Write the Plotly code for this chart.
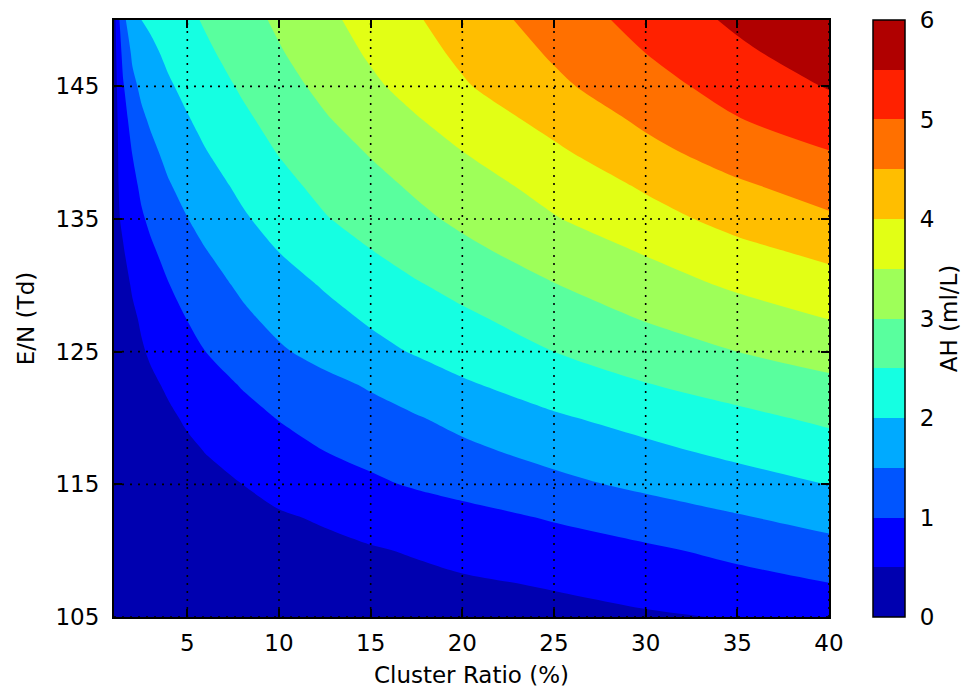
import plotly.graph_objects as go

# ---- data ----
cluster_ratio = [1, 1.25, 1.5, 2, 2.5, 3, 4, 5, 6, 8, 10, 12.5, 15, 17.5, 20, 25, 30, 35, 40]
en_td = [105, 107.5, 110, 112.5, 115, 117.5, 120, 122.5, 125, 127.5, 130,
         132.5, 135, 137.5, 140, 142.5, 145, 147.5, 150]

ah_105 = [0.03, 0.035, 0.04, 0.05, 0.06, 0.07, 0.09, 0.11, 0.13, 0.16, 0.19, 0.23, 0.27, 0.30, 0.33, 0.39, 0.44, 0.53, 0.68]
ah_107 = [0.04, 0.045, 0.055, 0.07, 0.085, 0.10, 0.13, 0.16, 0.18, 0.23, 0.27, 0.32, 0.37, 0.41, 0.45, 0.53, 0.69, 0.84, 0.99]
ah_110 = [0.05, 0.06, 0.07, 0.09, 0.11, 0.13, 0.17, 0.21, 0.24, 0.30, 0.35, 0.41, 0.47, 0.53, 0.61, 0.77, 0.92, 1.11, 1.33]
ah_112 = [0.06, 0.07, 0.085, 0.11, 0.14, 0.165, 0.22, 0.27, 0.31, 0.39, 0.46, 0.54, 0.64, 0.74, 0.84, 1.04, 1.25, 1.46, 1.66]
ah_115 = [0.07, 0.085, 0.10, 0.13, 0.165, 0.20, 0.27, 0.33, 0.39, 0.50, 0.62, 0.77, 0.92, 1.05, 1.16, 1.38, 1.60, 1.80, 2.01]
ah_117 = [0.08, 0.10, 0.12, 0.17, 0.21, 0.26, 0.34, 0.43, 0.51, 0.66, 0.81, 1.00, 1.13, 1.27, 1.40, 1.65, 1.89, 2.11, 2.30]
ah_120 = [0.10, 0.13, 0.16, 0.22, 0.27, 0.33, 0.44, 0.55, 0.65, 0.84, 1.02, 1.17, 1.32, 1.47, 1.63, 1.94, 2.17, 2.38, 2.59]
ah_122 = [0.11, 0.15, 0.19, 0.27, 0.35, 0.43, 0.56, 0.68, 0.80, 1.03, 1.19, 1.37, 1.55, 1.75, 1.94, 2.23, 2.48, 2.70, 2.89]
ah_125 = [0.12, 0.18, 0.23, 0.34, 0.46, 0.55, 0.72, 0.88, 1.00, 1.22, 1.44, 1.66, 1.86, 2.04, 2.20, 2.50, 2.75, 3.00, 3.20]
ah_127 = [0.13, 0.20, 0.28, 0.43, 0.55, 0.65, 0.84, 1.01, 1.15, 1.41, 1.63, 1.85, 2.06, 2.24, 2.41, 2.73, 3.03, 3.27, 3.51]
ah_130 = [0.15, 0.26, 0.36, 0.54, 0.66, 0.77, 0.99, 1.16, 1.31, 1.58, 1.80, 2.04, 2.25, 2.46, 2.64, 2.98, 3.28, 3.57, 3.81]
ah_132 = [0.17, 0.36, 0.47, 0.66, 0.81, 0.93, 1.14, 1.32, 1.48, 1.75, 2.00, 2.26, 2.48, 2.69, 2.88, 3.22, 3.53, 3.86, 4.11]
ah_135 = [0.20, 0.47, 0.57, 0.77, 0.95, 1.08, 1.29, 1.49, 1.65, 1.94, 2.19, 2.47, 2.69, 2.90, 3.09, 3.47, 3.82, 4.16, 4.43]
ah_137 = [0.21, 0.50, 0.63, 0.88, 1.08, 1.23, 1.47, 1.65, 1.81, 2.10, 2.36, 2.63, 2.86, 3.07, 3.28, 3.67, 4.06, 4.43, 4.71]
ah_140 = [0.22, 0.53, 0.70, 1.01, 1.23, 1.39, 1.63, 1.81, 1.98, 2.26, 2.52, 2.79, 3.03, 3.26, 3.49, 3.91, 4.36, 4.72, 4.98]
ah_142 = [0.24, 0.57, 0.80, 1.19, 1.42, 1.56, 1.79, 1.97, 2.13, 2.41, 2.67, 2.96, 3.22, 3.47, 3.71, 4.16, 4.59, 4.98, 5.26]
ah_145 = [0.25, 0.64, 0.96, 1.39, 1.59, 1.72, 1.95, 2.12, 2.27, 2.56, 2.82, 3.12, 3.41, 3.68, 3.95, 4.40, 4.82, 5.19, 5.53]
ah_147 = [0.27, 0.74, 1.15, 1.57, 1.76, 1.90, 2.10, 2.27, 2.42, 2.70, 2.96, 3.26, 3.56, 3.84, 4.09, 4.56, 5.00, 5.40, 5.76]
ah_150 = [0.30, 0.90, 1.40, 1.74, 2.00, 2.08, 2.24, 2.40, 2.55, 2.82, 3.08, 3.39, 3.68, 3.96, 4.22, 4.72, 5.17, 5.59, 5.98]

ah_grid = [ah_105, ah_107, ah_110, ah_112, ah_115, ah_117, ah_120, ah_122, ah_125, ah_127,
           ah_130, ah_132, ah_135, ah_137, ah_140, ah_142, ah_145, ah_147, ah_150]

x_ticks = [5, 10, 15, 20, 25, 30, 35, 40]
y_ticks = [105, 115, 125, 135, 145]
cb_ticks = [0, 1, 2, 3, 4, 5, 6]

level_start, level_end, level_step = 0, 6, 0.5

# ---- styling ----
band_colors = ['#0000b0', '#0000ff', '#0055ff', '#00aaff', '#15ffe2', '#59ff9e',
               '#9eff59', '#e2ff15', '#ffbe00', '#ff7000', '#ff2100', '#b00000']
n_lev = int(round((level_end - level_start) / level_step)) + 1  # 13
# colorscale sampled by plotly at band mid-points (k/13) for the contour fills
contour_scale = [[0.0, band_colors[0]]]
for k in range(1, n_lev):
    contour_scale.append([k / n_lev, band_colors[k - 1]])
contour_scale.append([1.0, band_colors[-1]])

# stepped colorscale for the colorbar (0..6)
nb = len(band_colors)
bar_scale = []
for i, c in enumerate(band_colors):
    bar_scale.append([i / nb, c])
    bar_scale.append([(i + 1) / nb, c])

FONT = "DejaVu Sans"
FS = 23

PLOT_W = 976 - 114 - 147
CB_X = 1.0615
CB_THICK = 32
CB_RIGHT = CB_X + CB_THICK / PLOT_W
CB_TICKLEN = 8

fig = go.Figure()
fig.add_trace(go.Contour(
    x=cluster_ratio, y=en_td, z=ah_grid,
    colorscale=contour_scale,
    autocontour=False,
    contours=dict(start=level_start, end=level_end, size=level_step,
                  coloring="fill", showlines=False),
    line=dict(width=0, smoothing=0.8),
    showscale=False,
    hoverinfo="skip",
))

# invisible helper trace that carries the 0-6 colour bar
fig.add_trace(go.Scatter(
    x=[cluster_ratio[0]], y=[en_td[0]], mode="markers",
    marker=dict(size=1, opacity=0, color=[level_start],
                colorscale=bar_scale, cmin=level_start, cmax=level_end,
                showscale=True,
                colorbar=dict(
                    x=CB_X, xanchor="left", xpad=0, y=0.5, yanchor="middle",
                    len=1.0, lenmode="fraction", ypad=0,
                    thickness=CB_THICK, thicknessmode="pixels",
                    outlinewidth=1.5, outlinecolor="black",
                    tickvals=cb_ticks, ticks="outside", ticklen=10, tickwidth=1,
                    tickcolor="rgba(0,0,0,0)",
                    tickfont=dict(family=FONT, size=FS, color="black"),
                    title=dict(text="AH (ml/L)", side="right",
                               font=dict(family=FONT, size=FS, color="black")),
                )),
    hoverinfo="skip", showlegend=False,
))

shapes = []
for xv in x_ticks:
    shapes.append(dict(type="line", xref="x", yref="paper", x0=xv, x1=xv, y0=0, y1=1,
                       layer="above", line=dict(color="black", width=1.6, dash="2px,6px")))
for yv in y_ticks:
    shapes.append(dict(type="line", xref="paper", yref="y", x0=0, x1=1, y0=yv, y1=yv,
                       layer="above", line=dict(color="black", width=1.6, dash="2px,6px")))
# inside tick marks on the colour bar
for tv in cb_ticks[1:-1]:
    yp = (tv - level_start) / (level_end - level_start)
    shapes.append(dict(type="line", xref="paper", yref="paper",
                       x0=CB_RIGHT - CB_TICKLEN / PLOT_W, x1=CB_RIGHT, y0=yp, y1=yp,
                       layer="above", line=dict(color="black", width=1.2)))

axis_common = dict(showline=True, linecolor="black", linewidth=2, mirror="ticks",
                   ticks="inside", ticklen=8, tickwidth=1.5, tickcolor="black",
                   showgrid=False, zeroline=False,
                   tickfont=dict(family=FONT, size=FS, color="black"))

fig.update_layout(
    width=976, height=695,
    margin=dict(l=114, r=147, t=20, b=78),
    paper_bgcolor="white", plot_bgcolor="white",
    shapes=shapes,
    xaxis=dict(range=[1, 40], tickvals=x_ticks, automargin=False, ticklabelstandoff=4,
               title=dict(text="Cluster Ratio (%)", font=dict(family=FONT, size=FS, color="black"), standoff=12),
               **axis_common),
    yaxis=dict(range=[105, 150], tickvals=y_ticks, automargin=False, ticklabelstandoff=8,
               title=dict(text="E/N (Td)", font=dict(family=FONT, size=FS, color="black"), standoff=14),
               **axis_common),
    showlegend=False,
)

fig.write_html("out.html")
